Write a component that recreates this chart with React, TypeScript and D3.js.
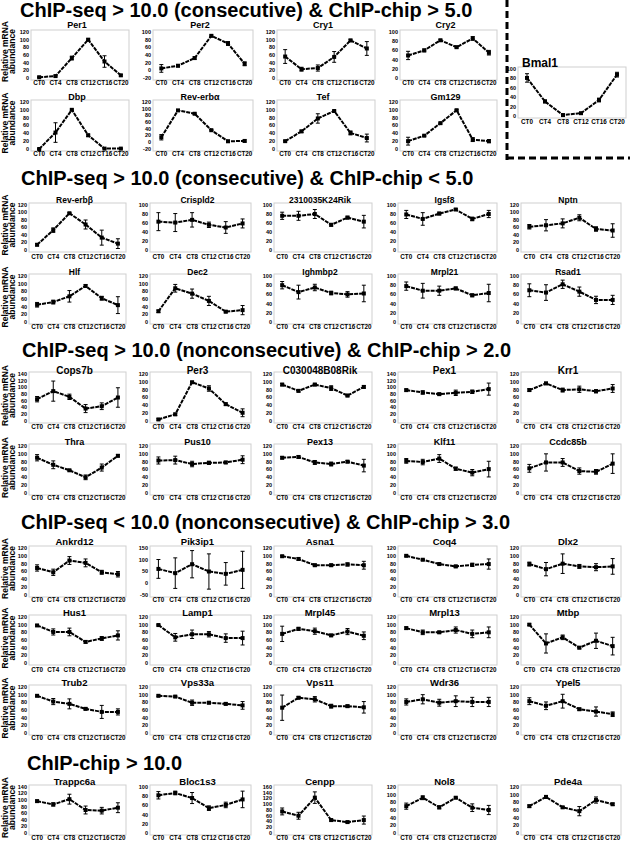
import React from "react";
import * as d3 from "d3";

const W = 630;
const H = 841;
const FONT = "'Liberation Sans', Arial, sans-serif";

const timePoints = ["CT0", "CT4", "CT8", "CT12", "CT16", "CT20"];

const sectionTitles = [
  "ChIP-seq > 10.0 (consecutive) & ChIP-chip > 5.0",
  "ChIP-seq > 10.0 (consecutive) & ChIP-chip < 5.0",
  "ChIP-seq > 10.0 (nonconsecutive) & ChIP-chip > 2.0",
  "ChIP-seq < 10.0 (nonconsecutive) & ChIP-chip > 3.0",
  "ChIP-chip > 10.0",
];

// section 1 (4 columns) + Bmal1
const s1Genes = ["Per1", "Per2", "Cry1", "Cry2", "Dbp", "Rev-erbα", "Tef", "Gm129"];
const s1Means = [
  [2, 5, 52, 100, 43, 7],
  [5, 12, 32, 90, 70, 17],
  [56, 23, 26, 55, 98, 77],
  [49, 60, 82, 67, 86, 55],
  [0, 42, 100, 35, 1, 1],
  [15, 95, 85, 36, 3, 4],
  [20, 45, 78, 97, 41, 28],
  [20, 34, 66, 99, 24, 20],
];
const s1Errors = [
  [1, 2, 5, 2, 15, 2],
  [10, 3, 3, 2, 5, 5],
  [18, 5, 8, 14, 3, 18],
  [9, 3, 2, 2, 4, 5],
  [1, 25, 2, 3, 1, 1],
  [8, 2, 2, 2, 3, 3],
  [2, 3, 12, 2, 5, 10],
  [10, 2, 2, 2, 5, 4],
];
const s1Axes = [[0, 120, 20], [-20, 100, 20], [0, 120, 20], [0, 100, 20], [0, 120, 20], [-20, 120, 20], [0, 120, 20], [0, 120, 20]];

const bmal1Means = [81, 31, 2, 6, 34, 88];
const bmal1Errors = [9, 3, 1, 1, 4, 5];
const bmal1Axis = [0, 100, 20];

// section 2
const s2Genes = ["Rev-erbβ", "Crispld2", "2310035K24Rik", "Igsf8", "Nptn", "Hlf", "Dec2", "Ighmbp2", "Mrpl21", "Rsad1"];
const s2Means = [
  [14, 53, 98, 68, 33, 17],
  [63, 61, 67, 56, 50, 59],
  [76, 76, 80, 56, 72, 63],
  [79, 69, 81, 90, 69, 80],
  [62, 66, 71, 86, 56, 52],
  [45, 52, 67, 94, 62, 44],
  [28, 88, 74, 55, 27, 31],
  [80, 65, 75, 63, 60, 62],
  [78, 68, 68, 73, 58, 63],
  [69, 64, 82, 66, 48, 48],
];
const s2Errors = [
  [3, 6, 2, 12, 20, 13],
  [20, 20, 16, 6, 13, 10],
  [8, 10, 10, 3, 3, 14],
  [9, 14, 3, 2, 4, 8],
  [6, 15, 12, 8, 6, 18],
  [6, 5, 15, 3, 5, 22],
  [3, 10, 12, 12, 3, 12],
  [8, 15, 7, 4, 6, 18],
  [9, 16, 10, 3, 3, 19],
  [14, 17, 9, 10, 8, 10],
];
const s2Axes = [[0, 120, 20], [0, 100, 20], [0, 100, 20], [0, 100, 20], [0, 120, 20], [0, 120, 20], [0, 120, 20], [0, 100, 20], [0, 100, 20], [0, 100, 20]];

// section 3
const s3Genes = ["Cops7b", "Per3", "C030048B08Rik", "Pex1", "Krr1", "Thra", "Pus10", "Pex13", "Klf11", "Ccdc85b"];
const s3Means = [
  [65, 89, 72, 37, 44, 70],
  [4, 17, 99, 83, 43, 21],
  [93, 77, 93, 84, 65, 87],
  [92, 85, 80, 84, 87, 95],
  [79, 96, 79, 81, 76, 83],
  [90, 72, 58, 40, 65, 95],
  [83, 84, 74, 77, 78, 85],
  [90, 92, 78, 74, 80, 70],
  [82, 79, 88, 62, 52, 61],
  [63, 78, 78, 56, 54, 75],
];
const s3Errors = [
  [8, 30, 8, 12, 10, 29],
  [2, 3, 2, 7, 3, 10],
  [3, 3, 3, 6, 3, 3],
  [3, 5, 3, 8, 5, 18],
  [3, 3, 5, 8, 4, 10],
  [8, 10, 2, 6, 9, 3],
  [9, 10, 7, 4, 3, 10],
  [3, 3, 5, 5, 3, 16],
  [6, 7, 10, 4, 8, 20],
  [10, 22, 10, 8, 6, 25],
];
const s3Axes = [[0, 140, 20], [0, 120, 20], [0, 120, 20], [0, 140, 20], [0, 120, 20], [0, 120, 20], [0, 120, 20], [0, 120, 20], [0, 120, 20], [0, 120, 20]];

// section 4
const s4Genes = ["Ankrd12", "Pik3ip1", "Asna1", "Coq4", "Dlx2", "Hus1", "Lamp1", "Mrpl45", "Mrpl13", "Mtbp", "Trub2", "Vps33a", "Vps11", "Wdr36", "Ypel5"];
const s4Means = [
  [69, 58, 88, 82, 58, 53],
  [61, 43, 81, 50, 40, 57],
  [99, 92, 76, 76, 78, 76],
  [100, 90, 79, 73, 77, 79],
  [79, 66, 80, 73, 71, 73],
  [98, 81, 81, 55, 64, 72],
  [99, 67, 75, 75, 65, 65],
  [76, 89, 83, 72, 82, 71],
  [91, 80, 80, 86, 76, 80],
  [100, 51, 67, 40, 58, 44],
  [97, 82, 76, 63, 55, 55],
  [97, 95, 79, 79, 76, 72],
  [66, 92, 88, 70, 70, 67],
  [81, 88, 79, 83, 81, 81],
  [83, 71, 83, 62, 56, 49],
];
const s4Errors = [
  [8, 8, 10, 10, 5, 7],
  [40, 65, 58, 75, 48, 79],
  [2, 3, 3, 3, 4, 10],
  [2, 2, 2, 3, 4, 13],
  [5, 17, 25, 5, 9, 20],
  [2, 8, 10, 3, 5, 12],
  [2, 10, 11, 7, 11, 18],
  [20, 4, 8, 3, 8, 10],
  [3, 6, 3, 8, 10, 14],
  [2, 25, 6, 3, 20, 23],
  [2, 8, 13, 3, 17, 8],
  [2, 2, 7, 3, 3, 10],
  [33, 3, 7, 5, 3, 15],
  [8, 12, 9, 14, 12, 12],
  [9, 10, 18, 3, 12, 6],
];
const s4Axes = [[0, 120, 20], [-50, 150, 50], [0, 120, 20], [0, 120, 20], [0, 120, 20], [0, 120, 20], [0, 120, 20], [0, 120, 20], [0, 120, 20], [0, 120, 20], [0, 120, 20], [0, 120, 20], [0, 120, 20], [0, 120, 20], [0, 120, 20]];

// section 5
const s5Genes = ["Trappc6a", "Bloc1s3", "Cenpp", "Nol8", "Pde4a"];
const s5Means = [
  [97, 87, 103, 70, 68, 77],
  [82, 87, 76, 54, 61, 73],
  [75, 60, 123, 45, 38, 45],
  [70, 92, 67, 92, 66, 60],
  [70, 94, 67, 57, 86, 75],
];
const s5Errors = [
  [3, 5, 15, 12, 10, 15],
  [8, 4, 12, 5, 6, 18],
  [12, 12, 20, 3, 3, 14],
  [8, 5, 4, 2, 10, 12],
  [3, 4, 2, 12, 8, 3],
];
const s5Axes = [[0, 140, 20], [0, 100, 20], [0, 160, 20], [0, 120, 20], [0, 120, 20]];

// layout
const sectionTitleY = [17, 185, 357, 529, 770];
const sectionTitleX = [20, 21, 22, 21, 27];
const s1Cols = [[31, 129], [153, 253], [277, 375], [400, 497]];
const cols5 = [[29, 126], [150, 251], [274, 372], [398, 497], [521, 621]];
const rows = [
  // section, titleY, top, bottom, labelY, titleSize
  [[25, 32, 78, 83, 9], [97, 102, 149, 154, 9]],
  [[200, 205, 250, 257, 8.5], [272, 276, 322, 327, 8.5]],
  [[370, 374, 421, 427, 10], [442, 446, 493, 498, 9]],
  [[542, 548, 595, 600, 9.5], [613, 617, 663, 670, 9.5], [683, 687, 733, 738, 9.5]],
  [[782, 787, 833, 838, 9.5]],
];

type PanelSpec = {
  name: string;
  means: number[];
  errs: number[];
  axis: number[];
  x0: number;
  x1: number;
  top: number;
  bottom: number;
  titleY: number;
  labelY: number;
  titleSize: number;
  titleX?: number;
};

function buildPanels(): PanelSpec[] {
  const sections = [
    [s1Genes, s1Means, s1Errors, s1Axes, s1Cols],
    [s2Genes, s2Means, s2Errors, s2Axes, cols5],
    [s3Genes, s3Means, s3Errors, s3Axes, cols5],
    [s4Genes, s4Means, s4Errors, s4Axes, cols5],
    [s5Genes, s5Means, s5Errors, s5Axes, cols5],
  ] as any[];
  const out: PanelSpec[] = [];
  sections.forEach(([genes, means, errs, axes, cols], si) => {
    genes.forEach((g: string, i: number) => {
      const r = rows[si][Math.floor(i / cols.length)];
      const c = cols[i % cols.length];
      out.push({
        name: g, means: means[i], errs: errs[i], axis: axes[i],
        x0: c[0], x1: c[1], top: r[1], bottom: r[2], titleY: r[0], labelY: r[3], titleSize: r[4],
      });
    });
  });
  out.push({
    name: "Bmal1", means: bmal1Means, errs: bmal1Errors, axis: bmal1Axis,
    x0: 518, x1: 626, top: 69, bottom: 116, titleY: 63, labelY: 122, titleSize: 12, titleX: 540,
  });
  return out;
}

function Panel({ p }: { p: PanelSpec }) {
  const x = d3.scalePoint<string>().domain(timePoints).range([p.x0, p.x1]).padding(0.5);
  const y = d3.scaleLinear().domain([p.axis[0], p.axis[1]]).range([p.bottom, p.top]);
  const ticks = d3.range(p.axis[0], p.axis[1] + 0.001, p.axis[2]);
  const line = d3.line<number>().x((_, i) => x(timePoints[i])!).y((d) => y(d));
  return (
    <g>
      <rect x={p.x0} y={p.top - 2} width={p.x1 - p.x0} height={p.bottom - p.top + 4} fill="none" stroke="#cfcfcf" strokeWidth={1} />
      {ticks.map((t) => (
        <text key={t} x={p.x0 - 2} y={y(t)} dy="0.35em" textAnchor="end" fontSize={5.5} fontWeight="bold" fontFamily={FONT}>
          {t}
        </text>
      ))}
      {timePoints.map((tp) => (
        <text key={tp} x={x(tp)} y={p.labelY} dy="0.35em" textAnchor="middle" fontSize={6.3} fontWeight="bold" fontFamily={FONT}>
          {tp}
        </text>
      ))}
      <text x={p.titleX ?? (p.x0 + p.x1) / 2 - 3} y={p.titleY} dy="0.35em" textAnchor="middle" fontSize={p.titleSize} fontWeight="bold" fontFamily={FONT}>
        {p.name}
      </text>
      <path d={line(p.means)!} fill="none" stroke="#000" strokeWidth={2} strokeDasharray="4,1" />
      {p.means.map((m, i) => {
        const cx = x(timePoints[i])!;
        const e = p.errs[i];
        return (
          <g key={i}>
            <line x1={cx} x2={cx} y1={y(m - e)} y2={y(m + e)} stroke="#000" strokeWidth={1} />
            <line x1={cx - 2} x2={cx + 2} y1={y(m - e)} y2={y(m - e)} stroke="#000" strokeWidth={1} />
            <line x1={cx - 2} x2={cx + 2} y1={y(m + e)} y2={y(m + e)} stroke="#000" strokeWidth={1} />
            <rect x={cx - 2} y={y(m) - 2} width={4} height={4} fill="#000" />
          </g>
        );
      })}
    </g>
  );
}

function YLabel({ cy }: { cy: number }) {
  return (
    <g fontSize={8.5} fontWeight="bold" fontFamily={FONT} textAnchor="middle">
      <text transform={`translate(5,${cy}) rotate(-90)`} dy="0.35em">Relative mRNA</text>
      <text transform={`translate(12.5,${cy}) rotate(-90)`} dy="0.35em">abundance</text>
    </g>
  );
}

export default function App() {
  const panels = buildPanels();
  return (
    <svg width={W} height={H} style={{ position: "absolute", left: 0, top: 0, background: "#fff" }}>
      {sectionTitles.map((t, i) => (
        <text key={t} x={sectionTitleX[i]} y={sectionTitleY[i]} fontSize={20} fontWeight="bold" fontFamily={FONT}>
          {t}
        </text>
      ))}
      {rows.flat().map((r, i) => (
        <YLabel key={i} cy={(r[0] + r[2]) / 2} />
      ))}
      {panels.map((p) => (
        <Panel key={p.name} p={p} />
      ))}
      <line x1={507} x2={507} y1={0} y2={160} stroke="#000" strokeWidth={3} strokeDasharray="7,4" />
      <line x1={507} x2={630} y1={158} y2={158} stroke="#000" strokeWidth={3} strokeDasharray="7,4" />
    </svg>
  );
}
